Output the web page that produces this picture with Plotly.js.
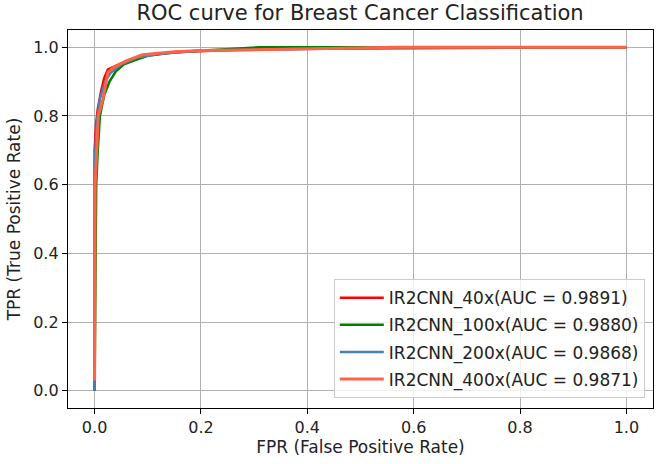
<!DOCTYPE html>
<html>
<head>
<meta charset="utf-8">
<script src="https://cdn.plot.ly/plotly-3.0.1.min.js"></script>
<style>html,body{margin:0;padding:0;background:#fff;}#chart{width:657px;height:464px;}</style>
</head>
<body>
<div id="chart"></div>
<script>
// Series names
const seriesNames = [
  "IR2CNN_40x(AUC = 0.9891)",
  "IR2CNN_100x(AUC = 0.9880)",
  "IR2CNN_200x(AUC = 0.9868)",
  "IR2CNN_400x(AUC = 0.9871)"
];
// ROC points
const fpr40  = [0, 0, 0.003, 0.006, 0.012, 0.018, 0.025, 0.04, 0.06, 0.09, 0.15, 0.3, 0.6, 1.0];
const tpr40  = [0, 0.70, 0.78, 0.82, 0.87, 0.91, 0.935, 0.945, 0.96, 0.975, 0.985, 0.995, 0.998, 1.0];
const fpr100 = [0, 0.003, 0.006, 0.01, 0.018, 0.028, 0.04, 0.055, 0.075, 0.1, 0.15, 0.2, 0.25, 0.31, 1.0];
const tpr100 = [0, 0.60, 0.70, 0.80, 0.86, 0.90, 0.93, 0.95, 0.962, 0.975, 0.985, 0.99, 0.995, 1.0, 1.0];
const fpr200 = [0, 0, 0.004, 0.01, 0.02, 0.03, 0.05, 0.08, 0.12, 0.2, 0.4, 0.6, 1.0];
const tpr200 = [0, 0.65, 0.78, 0.85, 0.90, 0.925, 0.95, 0.97, 0.98, 0.99, 0.995, 1.0, 1.0];
const fpr400 = [0, 0.001, 0.004, 0.007, 0.016, 0.025, 0.035, 0.06, 0.09, 0.15, 0.2, 0.4, 0.57, 1.0];
const tpr400 = [0.03, 0.60, 0.70, 0.80, 0.85, 0.927, 0.94, 0.96, 0.978, 0.987, 0.99, 0.995, 1.0, 1.0];
const colors = ["#ff0000", "#008000", "#4682b4", "#ff6347"];
const xTicks = [0.0, 0.2, 0.4, 0.6, 0.8, 1.0];
const yTicks = [0.0, 0.2, 0.4, 0.6, 0.8, 1.0];

const xs = [fpr40, fpr100, fpr200, fpr400];
const ys = [tpr40, tpr100, tpr200, tpr400];
const widths = [2.5, 2.5, 2.5, 3];
const traces = xs.map((x, i) => ({
  x: x, y: ys[i], type: "scatter", mode: "lines",
  name: seriesNames[i], legendgroup: "g" + i,
  line: {color: colors[i], width: widths[i]}
}));

const font = "DejaVu Sans, sans-serif";
const layout = {
  width: 657, height: 464,
  margin: {l: 68, r: 4, t: 30, b: 56},
  paper_bgcolor: "#fff", plot_bgcolor: "#fff",
  font: {family: font, size: 16, color: "#222"},
  title: {text: "ROC curve for Breast Cancer Classification", font: {family: font, size: 21, color: "#222"}, x: 0.548, xanchor: "center", y: 0.972, yanchor: "middle"},
  xaxis: {
    range: [-0.05, 1.05], tickvals: xTicks, ticktext: xTicks.map(v => v.toFixed(1)),
    showgrid: true, gridcolor: "#b0b0b0", gridwidth: 1, zeroline: false,
    showline: true, linecolor: "#000", linewidth: 1.2, mirror: true,
    ticks: "outside", ticklen: 5, tickcolor: "#000", tickfont: {size: 16},
    title: {text: "FPR (False Positive Rate)", font: {size: 17}, standoff: 4}
  },
  yaxis: {
    range: [-0.05, 1.05], tickvals: yTicks, ticktext: yTicks.map(v => v.toFixed(1)),
    showgrid: true, gridcolor: "#b0b0b0", gridwidth: 1, zeroline: false,
    showline: true, linecolor: "#000", linewidth: 1.2, mirror: true,
    ticks: "outside", ticklen: 5, tickcolor: "#000", tickfont: {size: 16},
    title: {text: "TPR (True Positive Rate)", font: {size: 17}, standoff: 8}
  },
  showlegend: true,
  legend: {
    x: 0.986, xanchor: "right", y: 0.026, yanchor: "bottom",
    bgcolor: "rgba(255,255,255,0.8)", bordercolor: "#cccccc", borderwidth: 1,
    font: {family: font, size: 17, color: "#222"},
    traceorder: "grouped", tracegroupgap: 2, itemwidth: 44
  }
};
Plotly.newPlot("chart", traces, layout, {displayModeBar: false, staticPlot: true});
</script>
</body>
</html>
